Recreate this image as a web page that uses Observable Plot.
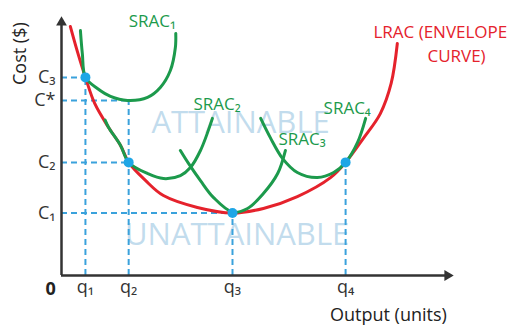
<!DOCTYPE html>
<html>
<head>
<meta charset="utf-8">
<script src="https://cdn.jsdelivr.net/npm/d3@7"></script>
<script src="https://cdn.jsdelivr.net/npm/@observablehq/plot@0.6"></script>
<style>
  html, body { margin: 0; padding: 0; background: #fff; }
  #chart { width: 515px; height: 327px; }
</style>
</head>
<body>
<div id="chart"></div>
<script>
// Tick positions and labels
const qValues = [6.2, 17.4, 44.3, 73.6];
const qLabels = ["q₁", "q₂", "q₃", "q₄"];
const cValues = [78.3, 69.2, 44.7, 24.7];
const cLabels = ["C₃", "C*", "C₂", "C₁"];

// Long-run average cost (envelope)
const lracX = [2.3, 4.2, 6.2, 8.6, 12.2, 15.3, 17.4, 21.8, 26.4, 35.2, 44.3, 52.3, 61.1, 69.7, 73.6, 78.2, 82.6, 85.4, 87.0];
const lracY = [98.4, 88.1, 78.3, 68.0, 58.5, 51.4, 44.7, 37.5, 31.6, 26.9, 24.7, 26.5, 31.2, 38.7, 44.7, 54.2, 64.0, 75.9, 91.7];

// Short-run average cost curves
const srac1X = [4.9, 5.4, 6.2, 9.3, 12.7, 17.1, 22.3, 25.6, 28.2, 29.5, 29.6];
const srac1Y = [96.8, 87.7, 78.3, 73.9, 70.8, 69.2, 70.4, 74.3, 81.0, 90.1, 95.7];
const srac2X = [11.3, 12.2, 15.3, 17.4, 22.3, 26.4, 30.8, 33.4, 36.0, 39.1];
const srac2Y = [61.4, 58.5, 51.4, 44.7, 40.3, 38.3, 39.5, 42.7, 49.4, 62.1];
const srac3X = [30.8, 32.9, 36.0, 39.4, 44.3, 48.2, 52.3, 56.0, 58.0];
const srac3Y = [49.4, 44.3, 37.5, 30.8, 25.1, 26.5, 32.4, 40.3, 49.4];
const srac4X = [51.6, 54.1, 57.3, 61.1, 66.3, 70.5, 73.6, 76.7, 78.8];
const srac4Y = [62.1, 54.5, 46.2, 40.7, 38.7, 40.7, 44.7, 52.6, 62.1];

// Tangency points
const pointX = [6.2, 17.4, 44.3, 73.6];
const pointY = [78.3, 44.7, 24.7, 44.7];

// Labels
const curveLabels = ["SRAC₁", "SRAC₂", "SRAC₃", "SRAC₄"];
const curveLabelX = [17.4, 34.2, 56.2, 67.9];
const curveLabelY = [100.4, 67.6, 53.8, 66.0];
const lracLabelLines = ["LRAC (ENVELOPE", "CURVE)"];
const lracLabelX = [80.8, 94.8];
const lracLabelY = [96.0, 86.6];
const regionLabels = ["ATTAINABLE", "UNATTAINABLE"];
const regionLabelX = [46.4, 45.5];
const regionLabelY = [60.1, 15.8];

const toPts = (xs, ys) => xs.map((x, i) => ({x, y: ys[i]}));
const lrac = toPts(lracX, lracY);
const sracs = [toPts(srac1X, srac1Y), toPts(srac2X, srac2Y), toPts(srac3X, srac3Y), toPts(srac4X, srac4Y)];
const points = toPts(pointX, pointY);

// Dashed guides: horizontal from y-axis to the point, vertical from point down to x-axis
const hGuides = [
  {x1: 0, x2: 6.2, y: 78.3},
  {x1: 0, x2: 17.4, y: 69.2},
  {x1: 0, x2: 17.4, y: 44.7},
  {x1: 0, x2: 44.3, y: 24.7}
];
const vGuides = [
  {x: 6.2, y1: 0, y2: 78.3},
  {x: 17.4, y1: 0, y2: 69.2},
  {x: 44.3, y1: 0, y2: 24.7},
  {x: 73.6, y1: 0, y2: 44.7}
];

const green = "#1c9a4c";
const red = "#e5222c";
const blue = "#3aa2dc";
const font = "'Open Sans', 'Noto Sans', sans-serif";

const chart = Plot.plot({
  width: 515,
  height: 327,
  marginLeft: 61,
  marginRight: 68,
  marginTop: 22,
  marginBottom: 52,
  style: {fontFamily: font, background: "#fff", overflow: "visible"},
  x: {domain: [0, 100], axis: null},
  y: {domain: [0, 100], axis: null},
  marks: [
    // watermark region labels
    Plot.text(regionLabels, {
      x: (d, i) => regionLabelX[i], y: (d, i) => regionLabelY[i],
      text: d => d, fontSize: 31, fill: "#b7d6ea", fillOpacity: 0.85,
      fontWeight: 400
    }),
    // dashed guides
    Plot.ruleY(hGuides, {x1: "x1", x2: "x2", y: "y", stroke: blue, strokeWidth: 2, strokeDasharray: "6,4"}),
    Plot.ruleX(vGuides, {x: "x", y1: "y1", y2: "y2", stroke: blue, strokeWidth: 2, strokeDasharray: "6,4"}),
    // LRAC
    Plot.line(lrac, {x: "x", y: "y", stroke: red, strokeWidth: 3, curve: "catmull-rom"}),
    // SRAC curves
    ...sracs.map(s => Plot.line(s, {x: "x", y: "y", stroke: green, strokeWidth: 3, curve: "catmull-rom"})),
    // tangency points
    Plot.dot(points, {x: "x", y: "y", r: 5, fill: "#1ea6e6", stroke: "none"}),
    // axes
    Plot.ruleX([0], {y1: 0, y2: 100, stroke: "#333", strokeWidth: 2.5}),
    Plot.ruleY([0], {x1: 0, x2: 100, stroke: "#333", strokeWidth: 2.5}),
    Plot.dot([{x: 0, y: 100}], {x: "x", y: "y", symbol: "triangle", r: 4, fill: "#333", stroke: "none"}),
    Plot.dot([{x: 100, y: 0}], {x: "x", y: "y", symbol: "triangle", r: 4, fill: "#333", stroke: "none", rotate: 90}),
    // tick labels
    Plot.axisX(qValues, {tickSize: 0, tickPadding: 5, tickFormat: (d, i) => qLabels[i], fontSize: 18, fill: "#333", label: null}),
    Plot.axisY(cValues, {tickSize: 0, tickPadding: 6, tickFormat: (d, i) => cLabels[i], fontSize: 18, fill: "#333", label: null}),
    Plot.text(["0"], {x: -2.8, y: -5.6, text: d => d, fontSize: 18, fontWeight: "bold", fill: "#222"}),
    // axis titles
    Plot.text(["Cost ($)"], {x: -10.6, y: 87.7, text: d => d, rotate: -90, fontSize: 18, fill: "#222"}),
    Plot.text(["Output (units)"], {x: 84.7, y: -15.6, text: d => d, fontSize: 18, fill: "#222"}),
    // curve labels
    Plot.text(curveLabels, {x: (d, i) => curveLabelX[i], y: (d, i) => curveLabelY[i], text: d => d, textAnchor: "start", fontSize: 17, fill: green}),
    Plot.text(lracLabelLines, {x: (d, i) => lracLabelX[i], y: (d, i) => lracLabelY[i], text: d => d, textAnchor: "start", fontSize: 17, fill: red})
  ]
});
document.getElementById("chart").appendChild(chart);
</script>
</body>
</html>
